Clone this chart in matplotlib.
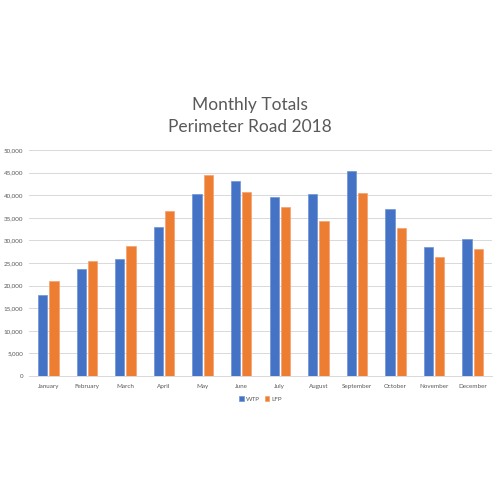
import matplotlib.pyplot as plt
import numpy as np
from matplotlib.ticker import FuncFormatter

months = ["January", "February", "March", "April", "May", "June",
          "July", "August", "September", "October", "November", "December"]
wtp = [18000, 23600, 25800, 33000, 40200, 43100, 39700, 40300, 45400, 37000, 28500, 30300]
lfp = [21100, 25400, 28800, 36500, 44500, 40700, 37300, 34300, 40500, 32700, 26300, 28100]

plt.rcParams['font.family'] = ['Lato', 'DejaVu Sans']

fig = plt.figure(figsize=(5, 5), dpi=100)
ax = fig.add_axes([0.058, 0.248, 0.926, 0.452])

x = np.arange(len(months))
w = 0.24
ax.bar(x - 0.145, wtp, w, color='#4472c4', label='WTP', edgecolor='#6f93d6', linewidth=0.5)
ax.bar(x + 0.145, lfp, w, color='#ed7d31', label='LFP', edgecolor='#f4a070', linewidth=0.5)

ax.set_xlim(-0.5, len(months) - 0.5)
ax.set_ylim(0, 50000)
ax.set_yticks(range(0, 50001, 5000))
ax.yaxis.set_major_formatter(FuncFormatter(lambda v, p: f"{int(v):,}"))
ax.set_xticks(x)
ax.set_xticklabels(months)
ax.tick_params(axis='both', length=0, labelsize=4.5, colors='#595959')
ax.tick_params(axis='x', pad=6)
ax.tick_params(axis='y', pad=4)
ax.grid(axis='y', color='#d9d9d9', linewidth=0.7)
ax.set_axisbelow(True)
for s in ['top', 'right', 'left']:
    ax.spines[s].set_visible(False)
ax.spines['bottom'].set_color('#d9d9d9')
ax.spines['bottom'].set_linewidth(0.7)

fig.text(0.5, 0.768, "Monthly Totals\nPerimeter Road 2018", ha='center', va='center',
         fontsize=12.5, color='#595959', linespacing=1.5)

ax.legend(loc='upper center', bbox_to_anchor=(0.5, -0.065), ncol=2, frameon=False,
          fontsize=4.5, labelcolor='#595959', handlelength=0.7, handleheight=0.7,
          handletextpad=0.3, columnspacing=0.8)

fig.savefig('out.png', dpi=100, facecolor='white')
